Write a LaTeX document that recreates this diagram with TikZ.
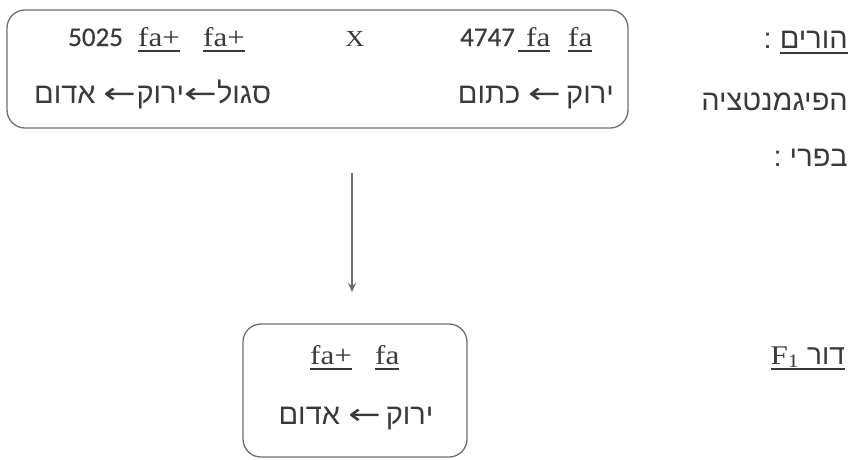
\documentclass[tikz,border=0pt]{standalone}
\usepackage{fontspec}
\setmainfont{Liberation Serif}[FakeStretch=1.15]
\newfontfamily\heb[Script=Hebrew]{Liberation Sans}
\newfontfamily\numf{Carlito}[FakeBold=0.5]
\newfontfamily\arrf{DejaVu Sans}[FakeStretch=1.35]
\TeXXeTstate=1
\usetikzlibrary{arrows.meta}
\definecolor{ink}{HTML}{3A3A3A}
\definecolor{frame}{HTML}{6E6E6E}
\newcommand\ulx[1]{\setbox0=\hbox{#1}\rlap{\raisebox{-5.5pt}{\rule{\wd0}{1.3pt}}}\box0}
\newcommand\la{{\arrf ←}}
\begin{document}
\begin{tikzpicture}[x=1pt,y=-1pt,
  txt/.style={inner sep=0pt,text=ink,font=\fontsize{27}{30}\selectfont},
  hebt/.style={inner sep=0pt,text=ink,font=\heb\fontsize{29}{32}\selectfont},
  numt/.style={inner sep=0pt,text=ink,font=\numf\fontsize{27}{30}\selectfont},
  panel/.style={draw=frame,line width=1.3pt,rounded corners=18pt,inner sep=0pt}]
\useasboundingbox (0,0) rectangle (856,459);
% top box
\node[panel,minimum width=621pt,minimum height=118pt] (top) at (317.5,69) {};
\node[numt,anchor=base west] (n5025) at (68,46) {5025};
\node[txt,anchor=base west] (fa1) at (138,46) {\ulx{fa+}};
\node[txt,anchor=base west] (fa2) at (203,46) {\ulx{fa+}};
\node[txt,anchor=base,font=\fontsize{23}{26}\selectfont] (cross) at (355,46) {X};
\node[numt,anchor=base west] (n4747) at (460,46) {4747};
\node[txt,anchor=base west] (fa3) at (518,46) {\ulx{\hspace{8pt}fa}};
\node[txt,anchor=base west] (fa4) at (568,46) {\ulx{fa}};
\node[hebt,anchor=base west] (h1) at (34,103) {\beginR סגול\la ירוק\la\ אדום\endR};
\node[hebt,anchor=base east] (h2) at (614,103) {\beginR ירוק\,\la\ כתום\endR};
% arrow
\coordinate (a1) at (352,173);
\coordinate (a2) at (352,292);
\draw[frame,line width=1.3pt,-{Stealth[length=9pt,width=8pt]}] (a1) -- (a2);
% bottom box
\node[panel,minimum width=224pt,minimum height=133pt] (bot) at (355,390.5) {};
\node[txt,anchor=base west] (fa5) at (310,364) {\ulx{fa+}};
\node[txt,anchor=base west] (fa6) at (375,364) {\ulx{fa}};
\node[hebt,anchor=base] (h3) at (356,424) {\beginR ירוק\,\la\ אדום\endR};
% right column
\node[hebt,anchor=base east] (r1) at (848,48) {:\ \ulx{\beginR הורים\endR}};
\node[hebt,anchor=base east] (r2) at (848,110) {\beginR הפיגמנטציה\endR};
\node[hebt,anchor=base east] (r3) at (848,166) {:\ \beginR בפרי\endR};
\node[txt,anchor=base east] (r4) at (845,364) {\ulx{F\textsubscript{1}\ {\heb\fontsize{28}{32}\selectfont\beginR דור\endR}}};
\end{tikzpicture}
\end{document}
